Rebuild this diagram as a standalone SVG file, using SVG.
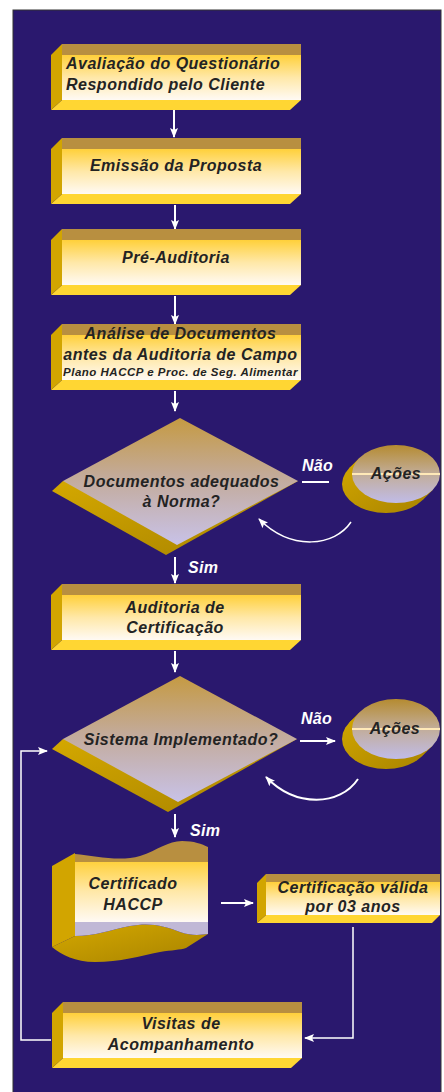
<svg xmlns="http://www.w3.org/2000/svg" xmlns:xlink="http://www.w3.org/1999/xlink" width="444" height="1092" viewBox="0 0 444 1092">
  <style>
    .t { font-family: "Liberation Sans", Arial, sans-serif; font-weight: bold; font-style: italic; font-size: 16px; fill: #232323; letter-spacing: 0.5px; }
    .c { text-anchor: middle; }
    .s { font-size: 11.5px; }
    .lbl { font-family: "Liberation Sans", Arial, sans-serif; font-weight: bold; font-style: italic; font-size: 16px; fill: #ffffff; letter-spacing: 0.3px; }
    .band { fill: #b88f40; }
    .side { fill: #d2a500; }
    .bot { fill: #ffd633; }
    .front { fill: url(#gFront); }
    .gold { fill: url(#gGold); }
    .ln { fill: none; stroke: #ffffff; stroke-width: 2; }
    .thin { fill: none; stroke: #ffffff; stroke-width: 1.5; }
  </style>
  <defs>
    <linearGradient id="gFront" x1="0" y1="0" x2="0" y2="1">
      <stop offset="0" stop-color="#ffd03a"/>
      <stop offset="0.5" stop-color="#ffe8a8"/>
      <stop offset="1" stop-color="#fffaf4"/>
    </linearGradient>
    <linearGradient id="gDiamond" x1="0" y1="0" x2="0" y2="1">
      <stop offset="0" stop-color="#c59a42"/>
      <stop offset="0.45" stop-color="#c3aa98"/>
      <stop offset="1" stop-color="#c8c2e8"/>
    </linearGradient>
    <linearGradient id="gEll" x1="0" y1="0" x2="0" y2="1">
      <stop offset="0" stop-color="#b58b30"/>
      <stop offset="0.5" stop-color="#c2ad9a"/>
      <stop offset="1" stop-color="#c0bce8"/>
    </linearGradient>
    <linearGradient id="gGold" x1="0" y1="0" x2="1" y2="1">
      <stop offset="0" stop-color="#d4a800"/>
      <stop offset="1" stop-color="#a88300"/>
    </linearGradient>
    <marker id="ah" markerUnits="userSpaceOnUse" markerWidth="10" markerHeight="8" refX="9" refY="4" orient="auto">
      <path d="M0,0 L10,4 L0,8 L2,4 Z" fill="#ffffff"/>
    </marker>
    <g id="box">
      <polygon class="band" points="11,0 250,0 250,11 11,11"/>
      <rect class="front" x="11" y="11" width="239" height="45"/>
      <polygon class="bot" points="11,56 250,56 239,66 0,66"/>
      <polygon class="side" points="0,11 11,0 11,56 0,66"/>
    </g>
  </defs>

  <rect x="0" y="0" width="444" height="1092" fill="#ffffff"/>
  <rect x="13" y="10" width="428" height="1083" fill="#2a186e" stroke="#333333" stroke-width="1"/>

  <g id="connectors">
    <path class="ln" d="M174,110 V137" marker-end="url(#ah)"/>
    <path class="ln" d="M175,205 V229" marker-end="url(#ah)"/>
    <path class="ln" d="M175,296 V324" marker-end="url(#ah)"/>
    <path class="ln" d="M175,391 V411" marker-end="url(#ah)"/>
    <path class="ln" d="M175,557 V583" marker-end="url(#ah)"/>
    <text class="lbl" x="188" y="573">Sim</text>
    <path class="ln" d="M175,814 V837" marker-end="url(#ah)"/>
    <path class="ln" d="M175,651 V672" marker-end="url(#ah)"/>
    <text class="lbl" x="190" y="836">Sim</text>
    <path class="ln" d="M302,482 H329"/>
    <text class="lbl" x="302" y="471">Não</text>
    <path class="ln" d="M300,741 H335" marker-end="url(#ah)"/>
    <text class="lbl" x="301" y="724">Não</text>
    <path class="thin" d="M351,522 C335,546 292,552 259,519" marker-end="url(#ah)"/>
    <path class="ln" d="M358,779 C340,806 296,808 266,777" marker-end="url(#ah)"/>
    <path class="ln" d="M221,903 H253" marker-end="url(#ah)"/>
    <path class="thin" d="M353,927 V1038 H305" marker-end="url(#ah)"/>
    <path class="thin" d="M51,1040 H21 V751 H47" marker-end="url(#ah)"/>
  </g>

  <g id="n1">
    <use xlink:href="#box" href="#box" x="51" y="44"/>
    <text class="t" x="66" y="69">Avaliação do Questionário</text>
    <text class="t" x="66" y="90">Respondido pelo Cliente</text>
  </g>
  <g id="n2">
    <use xlink:href="#box" href="#box" x="51" y="138"/>
    <text class="t c" x="176" y="171">Emissão da Proposta</text>
  </g>
  <g id="n3">
    <use xlink:href="#box" href="#box" x="51" y="229"/>
    <text class="t c" x="176" y="263">Pré-Auditoria</text>
  </g>
  <g id="n4">
    <use xlink:href="#box" href="#box" x="51" y="324"/>
    <text class="t c" x="180.5" y="339">Análise de Documentos</text>
    <text class="t c" x="180.5" y="360">antes da Auditoria de Campo</text>
    <text class="t c s" x="180.5" y="376">Plano HACCP e Proc. de Seg. Alimentar</text>
  </g>
  <g id="d1">
    <polygon class="gold" points="63,481 52,491 166,555 298,481"/>
    <polygon fill="url(#gDiamond)" points="180,418 298,481 177,545 63,481"/>
    <text class="t c" x="181.5" y="487">Documentos adequados</text>
    <text class="t c" x="181.5" y="507">à Norma?</text>
  </g>
  <g id="a1">
    <polygon class="gold" points="432.7,490 359.3,458 349.3,468 422.7,500"/>
    <ellipse class="gold" cx="386" cy="484" rx="44" ry="29"/>
    <ellipse fill="url(#gEll)" cx="396" cy="474" rx="44" ry="29"/>
    <line x1="352" y1="474" x2="440" y2="474" stroke="#ffe9b8" stroke-width="2"/>
    <text class="t c" x="396" y="479">Ações</text>
  </g>
  <g id="n5">
    <use xlink:href="#box" href="#box" x="51" y="584"/>
    <text class="t c" x="175" y="613">Auditoria de</text>
    <text class="t c" x="175" y="633">Certificação</text>
  </g>
  <g id="d2">
    <polygon class="gold" points="63,739 52,749 168,812 297,739"/>
    <polygon fill="url(#gDiamond)" points="180,676 297,739 178,802 63,739"/>
    <text class="t c" x="181" y="745">Sistema Implementado?</text>
  </g>
  <g id="a2">
    <polygon class="gold" points="432.7,745.5 359.3,712.5 349.3,722.5 422.7,755.5"/>
    <ellipse class="gold" cx="386" cy="739" rx="44" ry="30"/>
    <ellipse fill="url(#gEll)" cx="396" cy="729" rx="44" ry="30"/>
    <line x1="352" y1="729" x2="440" y2="729" stroke="#ffe9b8" stroke-width="2"/>
    <text class="t c" x="395" y="734">Ações</text>
  </g>
  <g id="n6">
    <path class="gold" d="M208,934 C200,935 192,936 180,932 C165,926 150,922 130,926 C110,930 95,936 75,936 L52,947 C62,955 75,962 95,962 C120,962 140,956 160,952 C172,950 180,950 186,948 Z"/>
    <path fill="#c0b8d6" d="M75,921 L208,921 L208,934 C200,935 192,936 180,932 C165,926 150,922 130,926 C110,930 95,936 75,936 Z"/>
    <rect class="front" x="75" y="861" width="133" height="61"/>
    <path class="band" d="M75,854 C95,856 120,862 140,856 C158,850 168,841 182,841 C194,841 202,844 208,847 L208,862 L75,862 Z"/>
    <polygon class="side" points="52,866 75,853 75,936 52,947"/>
    <text class="t c" x="133" y="889">Certificado</text>
    <text class="t c" x="133" y="910">HACCP</text>
  </g>
  <g id="n7">
    <polygon class="band" points="266,874 440,874 440,882 266,882"/>
    <rect class="front" x="266" y="882" width="174" height="33"/>
    <polygon class="bot" points="266,915 440,915 432,923 257,923"/>
    <polygon class="side" points="257,883 266,874 266,915 257,923"/>
    <text class="t c" x="353" y="893">Certificação válida</text>
    <text class="t c" x="353" y="912">por 03 anos</text>
  </g>
  <g id="n8">
    <use xlink:href="#box" href="#box" x="52" y="1002"/>
    <text class="t c" x="181" y="1029">Visitas de</text>
    <text class="t c" x="181" y="1050">Acompanhamento</text>
  </g>
</svg>
